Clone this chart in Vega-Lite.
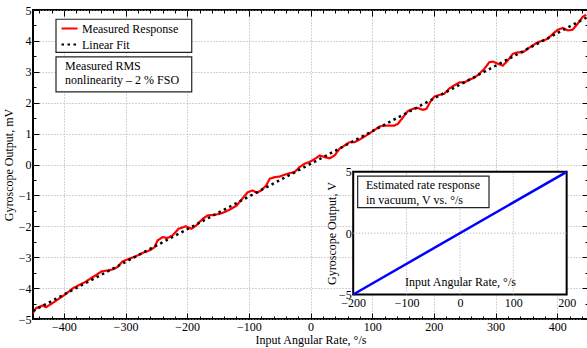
{
  "$schema": "https://vega.github.io/schema/vega-lite/v6.json",
  "width": 555,
  "height": 309,
  "autosize": {"type": "none"},
  "padding": {"left": 33, "top": 10, "right": 0, "bottom": 29},
  "background": "white",
  "config": {
    "view": {"stroke": "#000000", "strokeWidth": 2},
    "font": "Liberation Serif",
    "axis": {
      "labelFont": "Liberation Serif", "labelFontSize": 12, "labelColor": "#000000",
      "titleFont": "Liberation Serif", "titleFontSize": 12, "titleFontWeight": "normal", "titleColor": "#000000",
      "domain": false, "tickColor": "#000000", "tickWidth": 1,
      "labelOverlap": false, "labelFlush": false,
      "gridColor": "#a8a8a8", "gridDash": [1, 2], "gridWidth": 1
    },
    "text": {"font": "Liberation Serif", "fontSize": 12, "color": "#000000"}
  },
  "datasets": {
    "measured": [
      {"rate": -450, "output": -4.80, "series": "Measured Response"},
      {"rate": -445, "output": -4.65, "series": "Measured Response"},
      {"rate": -434, "output": -4.56, "series": "Measured Response"},
      {"rate": -429, "output": -4.62, "series": "Measured Response"},
      {"rate": -418, "output": -4.48, "series": "Measured Response"},
      {"rate": -404, "output": -4.29, "series": "Measured Response"},
      {"rate": -396, "output": -4.18, "series": "Measured Response"},
      {"rate": -385, "output": -4.00, "series": "Measured Response"},
      {"rate": -374, "output": -3.89, "series": "Measured Response"},
      {"rate": -366, "output": -3.81, "series": "Measured Response"},
      {"rate": -356, "output": -3.68, "series": "Measured Response"},
      {"rate": -347, "output": -3.57, "series": "Measured Response"},
      {"rate": -339, "output": -3.46, "series": "Measured Response"},
      {"rate": -329, "output": -3.43, "series": "Measured Response"},
      {"rate": -321, "output": -3.40, "series": "Measured Response"},
      {"rate": -313, "output": -3.32, "series": "Measured Response"},
      {"rate": -305, "output": -3.14, "series": "Measured Response"},
      {"rate": -294, "output": -3.05, "series": "Measured Response"},
      {"rate": -283, "output": -2.97, "series": "Measured Response"},
      {"rate": -272, "output": -2.86, "series": "Measured Response"},
      {"rate": -261, "output": -2.78, "series": "Measured Response"},
      {"rate": -253, "output": -2.68, "series": "Measured Response"},
      {"rate": -248, "output": -2.46, "series": "Measured Response"},
      {"rate": -240, "output": -2.35, "series": "Measured Response"},
      {"rate": -232, "output": -2.38, "series": "Measured Response"},
      {"rate": -224, "output": -2.30, "series": "Measured Response"},
      {"rate": -214, "output": -2.08, "series": "Measured Response"},
      {"rate": -202, "output": -2.00, "series": "Measured Response"},
      {"rate": -193, "output": -2.08, "series": "Measured Response"},
      {"rate": -185, "output": -1.97, "series": "Measured Response"},
      {"rate": -175, "output": -1.76, "series": "Measured Response"},
      {"rate": -167, "output": -1.65, "series": "Measured Response"},
      {"rate": -156, "output": -1.63, "series": "Measured Response"},
      {"rate": -148, "output": -1.60, "series": "Measured Response"},
      {"rate": -139, "output": -1.54, "series": "Measured Response"},
      {"rate": -131, "output": -1.46, "series": "Measured Response"},
      {"rate": -120, "output": -1.33, "series": "Measured Response"},
      {"rate": -112, "output": -1.14, "series": "Measured Response"},
      {"rate": -102, "output": -0.90, "series": "Measured Response"},
      {"rate": -94, "output": -0.84, "series": "Measured Response"},
      {"rate": -87, "output": -0.92, "series": "Measured Response"},
      {"rate": -80, "output": -0.84, "series": "Measured Response"},
      {"rate": -72, "output": -0.68, "series": "Measured Response"},
      {"rate": -66, "output": -0.46, "series": "Measured Response"},
      {"rate": -58, "output": -0.41, "series": "Measured Response"},
      {"rate": -50, "output": -0.39, "series": "Measured Response"},
      {"rate": -42, "output": -0.33, "series": "Measured Response"},
      {"rate": -34, "output": -0.28, "series": "Measured Response"},
      {"rate": -26, "output": -0.25, "series": "Measured Response"},
      {"rate": -18, "output": -0.09, "series": "Measured Response"},
      {"rate": -10, "output": 0.02, "series": "Measured Response"},
      {"rate": -2, "output": 0.08, "series": "Measured Response"},
      {"rate": 6, "output": 0.17, "series": "Measured Response"},
      {"rate": 15, "output": 0.29, "series": "Measured Response"},
      {"rate": 23, "output": 0.24, "series": "Measured Response"},
      {"rate": 31, "output": 0.20, "series": "Measured Response"},
      {"rate": 39, "output": 0.29, "series": "Measured Response"},
      {"rate": 47, "output": 0.51, "series": "Measured Response"},
      {"rate": 55, "output": 0.61, "series": "Measured Response"},
      {"rate": 63, "output": 0.72, "series": "Measured Response"},
      {"rate": 71, "output": 0.72, "series": "Measured Response"},
      {"rate": 79, "output": 0.80, "series": "Measured Response"},
      {"rate": 88, "output": 0.91, "series": "Measured Response"},
      {"rate": 96, "output": 1.01, "series": "Measured Response"},
      {"rate": 104, "output": 1.12, "series": "Measured Response"},
      {"rate": 112, "output": 1.23, "series": "Measured Response"},
      {"rate": 120, "output": 1.26, "series": "Measured Response"},
      {"rate": 128, "output": 1.26, "series": "Measured Response"},
      {"rate": 136, "output": 1.26, "series": "Measured Response"},
      {"rate": 142, "output": 1.32, "series": "Measured Response"},
      {"rate": 150, "output": 1.53, "series": "Measured Response"},
      {"rate": 158, "output": 1.73, "series": "Measured Response"},
      {"rate": 166, "output": 1.80, "series": "Measured Response"},
      {"rate": 174, "output": 1.83, "series": "Measured Response"},
      {"rate": 182, "output": 1.77, "series": "Measured Response"},
      {"rate": 188, "output": 1.80, "series": "Measured Response"},
      {"rate": 194, "output": 2.02, "series": "Measured Response"},
      {"rate": 201, "output": 2.20, "series": "Measured Response"},
      {"rate": 209, "output": 2.25, "series": "Measured Response"},
      {"rate": 217, "output": 2.29, "series": "Measured Response"},
      {"rate": 225, "output": 2.46, "series": "Measured Response"},
      {"rate": 234, "output": 2.57, "series": "Measured Response"},
      {"rate": 242, "output": 2.66, "series": "Measured Response"},
      {"rate": 250, "output": 2.66, "series": "Measured Response"},
      {"rate": 258, "output": 2.75, "series": "Measured Response"},
      {"rate": 266, "output": 2.81, "series": "Measured Response"},
      {"rate": 274, "output": 2.94, "series": "Measured Response"},
      {"rate": 282, "output": 3.10, "series": "Measured Response"},
      {"rate": 290, "output": 3.31, "series": "Measured Response"},
      {"rate": 296, "output": 3.33, "series": "Measured Response"},
      {"rate": 304, "output": 3.26, "series": "Measured Response"},
      {"rate": 312, "output": 3.20, "series": "Measured Response"},
      {"rate": 320, "output": 3.37, "series": "Measured Response"},
      {"rate": 328, "output": 3.58, "series": "Measured Response"},
      {"rate": 336, "output": 3.63, "series": "Measured Response"},
      {"rate": 344, "output": 3.63, "series": "Measured Response"},
      {"rate": 352, "output": 3.74, "series": "Measured Response"},
      {"rate": 360, "output": 3.85, "series": "Measured Response"},
      {"rate": 369, "output": 3.96, "series": "Measured Response"},
      {"rate": 377, "output": 4.01, "series": "Measured Response"},
      {"rate": 385, "output": 4.07, "series": "Measured Response"},
      {"rate": 393, "output": 4.23, "series": "Measured Response"},
      {"rate": 401, "output": 4.36, "series": "Measured Response"},
      {"rate": 409, "output": 4.42, "series": "Measured Response"},
      {"rate": 417, "output": 4.34, "series": "Measured Response"},
      {"rate": 425, "output": 4.36, "series": "Measured Response"},
      {"rate": 433, "output": 4.55, "series": "Measured Response"},
      {"rate": 441, "output": 4.77, "series": "Measured Response"},
      {"rate": 447, "output": 4.85, "series": "Measured Response"}
    ],
    "fit": [
      {"rate": -450, "output": -4.74, "series": "Linear Fit"},
      {"rate": 450, "output": 4.78, "series": "Linear Fit"}
    ],
    "vacuum": [
      {"rate": -200, "output": -5},
      {"rate": 200, "output": 5}
    ]
  },
  "layer": [
    {
      "data": {"name": "measured"},
      "mark": {"type": "line", "strokeWidth": 2.2, "clip": true},
      "encoding": {
        "x": {
          "field": "rate", "type": "quantitative",
          "scale": {"domain": [-450, 450], "nice": false, "zero": false},
          "axis": {
            "orient": "bottom", "title": "Input Angular Rate, °/s",
            "values": [-400, -300, -200, -100, 0, 100, 200, 300, 400],
            "format": "d", "tickSize": -6, "grid": true,
            "labelPadding": 8, "titlePadding": 2
          }
        },
        "y": {
          "field": "output", "type": "quantitative",
          "scale": {"domain": [-5, 5], "nice": false, "zero": false},
          "axis": {
            "orient": "left", "title": "Gyroscope Output, mV",
            "values": [-5, -4, -3, -2, -1, 0, 1, 2, 3, 4, 5],
            "format": "d", "tickSize": -6, "grid": true,
            "labelPadding": 8, "titlePadding": 3
          }
        },
        "color": {
          "field": "series", "type": "nominal",
          "scale": {"domain": ["Measured Response", "Linear Fit"], "range": ["#ff0000", "#000000"]},
          "legend": {
            "orient": "none", "legendX": 27, "legendY": 9, "title": null,
            "symbolType": "stroke", "symbolSize": 256, "symbolStrokeWidth": 2.2,
            "labelFont": "Liberation Serif", "labelFontSize": 12, "labelColor": "#000000",
            "labelOffset": 3, "rowPadding": -1, "padding": 0
          }
        },
        "strokeDash": {
          "field": "series", "type": "nominal",
          "scale": {"domain": ["Measured Response", "Linear Fit"], "range": [[1, 0], [2.5, 3.5]]}
        }
      }
    },
    {
      "data": {"name": "fit"},
      "mark": {"type": "line", "strokeWidth": 2.5},
      "encoding": {
        "x": {
          "field": "rate", "type": "quantitative",
          "scale": {"domain": [-450, 450], "nice": false, "zero": false},
          "axis": {
            "orient": "top", "title": null, "labels": false, "grid": false,
            "values": [-400, -300, -200, -100, 0, 100, 200, 300, 400], "tickSize": -6
          }
        },
        "y": {
          "field": "output", "type": "quantitative",
          "scale": {"domain": [-5, 5], "nice": false, "zero": false},
          "axis": {
            "orient": "right", "title": null, "labels": false, "grid": false,
            "values": [-5, -4, -3, -2, -1, 0, 1, 2, 3, 4, 5], "tickSize": -6
          }
        },
        "color": {"field": "series", "type": "nominal"},
        "strokeDash": {"field": "series", "type": "nominal"}
      }
    },
    {
      "data": {"values": [{}]},
      "mark": {"type": "rect", "fill": "#ffffff", "stroke": "#222222", "strokeWidth": 1.2},
      "encoding": {
        "x": {"datum": -412.7, "type": "quantitative",
              "scale": {"domain": [-450, 450], "nice": false, "zero": false},
              "axis": {"orient": "bottom", "title": null, "labels": false, "grid": false, "tickSize": -3,
                       "values": [-440,-420,-380,-360,-340,-320,-280,-260,-240,-220,-180,-160,-140,-120,-80,-60,-40,-20,20,40,60,80,120,140,160,180,220,240,260,280,320,340,360,380,420,440]}},
        "x2": {"datum": -192.6},
        "y": {"datum": 4.70, "type": "quantitative",
              "scale": {"domain": [-5, 5], "nice": false, "zero": false},
              "axis": {"orient": "left", "title": null, "labels": false, "grid": false, "tickSize": -3,
                       "values": [-4.5, -3.5, -2.5, -1.5, -0.5, 0.5, 1.5, 2.5, 3.5, 4.5]}},
        "y2": {"datum": 3.63}
      }
    },
    {
      "data": {"values": [{}]},
      "mark": {"type": "rect", "fill": "#ffffff", "stroke": "#222222", "strokeWidth": 1.2},
      "encoding": {
        "x": {"datum": -412.7, "type": "quantitative",
              "scale": {"domain": [-450, 450], "nice": false, "zero": false},
              "axis": {"orient": "top", "title": null, "labels": false, "grid": false, "tickSize": -3,
                       "values": [-440,-420,-380,-360,-340,-320,-280,-260,-240,-220,-180,-160,-140,-120,-80,-60,-40,-20,20,40,60,80,120,140,160,180,220,240,260,280,320,340,360,380,420,440]}},
        "x2": {"datum": -192.6},
        "y": {"datum": 3.48, "type": "quantitative",
              "scale": {"domain": [-5, 5], "nice": false, "zero": false},
              "axis": {"orient": "right", "title": null, "labels": false, "grid": false, "tickSize": -3,
                       "values": [-4.5, -3.5, -2.5, -1.5, -0.5, 0.5, 1.5, 2.5, 3.5, 4.5]}},
        "y2": {"datum": 2.35}
      }
    },
    {
      "data": {"values": [{}]},
      "mark": {"type": "text", "align": "left", "baseline": "middle", "lineHeight": 14.3, "fontSize": 12, "font": "Liberation Serif", "color": "#000000",
               "text": ["Measured RMS", "nonlinearity – 2 % FSO"]},
      "encoding": {
        "x": {"datum": -398, "type": "quantitative", "scale": {"domain": [-450, 450], "nice": false, "zero": false}, "axis": null},
        "y": {"datum": 3.20, "type": "quantitative", "scale": {"domain": [-5, 5], "nice": false, "zero": false}, "axis": null}
      }
    },
    {
      "data": {"values": [{}]},
      "mark": {"type": "rect", "fill": "#ffffff", "stroke": "#000000", "strokeWidth": 2},
      "encoding": {
        "x": {
          "datum": -200, "type": "quantitative",
          "scale": {"domain": [-800, 240], "nice": false, "zero": false},
          "axis": {
            "orient": "bottom", "offset": -24.5, "values": [-200, -100, 0, 100, 200],
            "ticks": false, "grid": false, "labelPadding": 3,
            "title": "Input Angular Rate, °/s", "titleX": 427, "titleY": -9, "titleBaseline": "alphabetic",
            "zindex": 1
          }
        },
        "x2": {"datum": 200},
        "y": {
          "datum": -5, "type": "quantitative",
          "scale": {"domain": [-7, 18.2], "nice": false, "zero": false},
          "axis": {
            "orient": "left", "offset": -320.2, "values": [-5, 0, 5],
            "ticks": false, "grid": false, "labelPadding": 2,
            "title": "Gyroscope Output, V", "titleX": -21.5, "titleY": 223, "titleBaseline": "middle",
            "zindex": 1
          }
        },
        "y2": {"datum": 5}
      }
    },
    {
      "data": {"values": [{"rate": -100}, {"rate": 0}, {"rate": 100}]},
      "mark": {"type": "rule", "color": "#a8a8a8", "strokeDash": [1, 2], "strokeWidth": 1},
      "encoding": {
        "x": {"field": "rate", "type": "quantitative", "scale": {"domain": [-800, 240], "nice": false, "zero": false}, "axis": null},
        "y": {"datum": -5, "type": "quantitative", "scale": {"domain": [-7, 18.2], "nice": false, "zero": false}, "axis": null},
        "y2": {"datum": 5}
      }
    },
    {
      "data": {"values": [{"output": 0}]},
      "mark": {"type": "rule", "color": "#a8a8a8", "strokeDash": [1, 2], "strokeWidth": 1},
      "encoding": {
        "y": {"field": "output", "type": "quantitative", "scale": {"domain": [-7, 18.2], "nice": false, "zero": false}, "axis": null},
        "x": {"datum": -200, "type": "quantitative", "scale": {"domain": [-800, 240], "nice": false, "zero": false}, "axis": null},
        "x2": {"datum": 200}
      }
    },
    {
      "data": {"name": "vacuum"},
      "mark": {"type": "line", "color": "#0000ff", "strokeWidth": 2.5},
      "encoding": {
        "x": {"field": "rate", "type": "quantitative", "scale": {"domain": [-800, 240], "nice": false, "zero": false}, "axis": null},
        "y": {"field": "output", "type": "quantitative", "scale": {"domain": [-7, 18.2], "nice": false, "zero": false}, "axis": null}
      }
    },
    {
      "data": {"values": [{}]},
      "mark": {"type": "rect", "fill": "#ffffff", "stroke": "#222222", "strokeWidth": 1.2},
      "encoding": {
        "x": {"datum": -191.6, "type": "quantitative", "scale": {"domain": [-800, 240], "nice": false, "zero": false}, "axis": null},
        "x2": {"datum": 54.5},
        "y": {"datum": 4.66, "type": "quantitative", "scale": {"domain": [-7, 18.2], "nice": false, "zero": false}, "axis": null},
        "y2": {"datum": 2.08}
      }
    },
    {
      "data": {"values": [{}]},
      "mark": {"type": "text", "align": "left", "baseline": "middle", "lineHeight": 15, "fontSize": 12, "font": "Liberation Serif", "color": "#000000",
               "text": ["Estimated rate response", "in vacuum, V vs. °/s"]},
      "encoding": {
        "x": {"datum": -176, "type": "quantitative", "scale": {"domain": [-800, 240], "nice": false, "zero": false}, "axis": null},
        "y": {"datum": 3.93, "type": "quantitative", "scale": {"domain": [-7, 18.2], "nice": false, "zero": false}, "axis": null}
      }
    }
  ],
  "resolve": {"scale": {"x": "independent", "y": "independent"}}
}
